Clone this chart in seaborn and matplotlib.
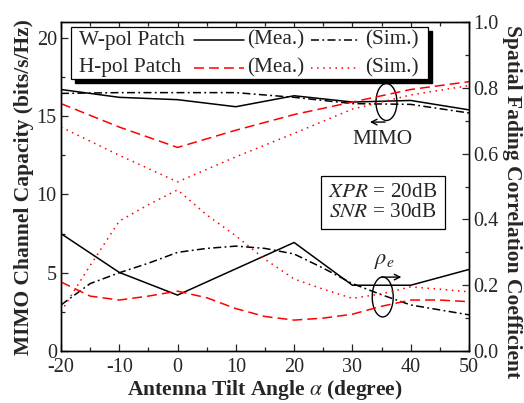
import numpy as np
import pandas as pd
import matplotlib
matplotlib.use("Agg")
import matplotlib.pyplot as plt
import seaborn as sns
from matplotlib.patches import Ellipse, Rectangle
from matplotlib.lines import Line2D

# tilt angles (degree)
angle_10 = [-20, -10, 0, 10, 20, 30, 40, 50]
angle_5 = [-20, -15, -10, -5, 0, 5, 10, 15, 20, 25, 30, 35, 40, 45, 50]

# MIMO channel capacity (bits/s/Hz)
cap_w_mea = [16.7, 16.2, 16.05, 15.6, 16.3, 15.9, 16.0, 15.4]
cap_w_sim = [16.45, 16.5, 16.5, 16.5, 16.2, 15.8, 15.75, 15.2]
cap_h_mea = [15.8, 14.3, 13.0, 14.1, 15.1, 15.9, 16.7, 17.2]
cap_h_sim = [14.3, 12.5, 10.8, 12.4, 13.9, 15.45, 16.35, 16.95]

# spatial fading correlation coefficient
rho_w_mea = [0.357, 0.239, 0.17, 0.25, 0.33, 0.20, 0.20, 0.248]
rho_w_sim = [0.14, 0.205, 0.238, 0.267, 0.30, 0.312, 0.319, 0.312, 0.295, 0.252, 0.205, 0.171, 0.14, 0.125, 0.11]
rho_h_mea = [0.21, 0.167, 0.155, 0.167, 0.182, 0.162, 0.129, 0.105, 0.094, 0.10, 0.112, 0.136, 0.155, 0.155, 0.15]
rho_h_sim = [0.12, 0.26, 0.395, 0.445, 0.49, 0.414, 0.35, 0.279, 0.219, 0.188, 0.16, 0.174, 0.195, 0.188, 0.18]

sns.set_style("ticks")
plt.rcParams['font.family'] = ['Liberation Serif', 'DejaVu Serif']
plt.rcParams['mathtext.fontset'] = 'stix'
plt.rcParams['axes.unicode_minus'] = False

red = '#ff0000'
lw = 1.1
solid = '-'
dashdot = (0, (5.2, 2.2, 1.2, 2.2))
dashed = (0, (6.5, 3.3))
dotted = (0, (1, 3))

fig = plt.figure(figsize=(5.24, 4.03), dpi=100)
ax = fig.add_axes([0.1164, 0.129, 0.7786, 0.816])
ax2 = ax.twinx()

# capacity curves (left axis)
sns.lineplot(x=angle_10, y=cap_w_mea, ax=ax, color='k', lw=lw, linestyle=solid)
sns.lineplot(x=angle_10, y=cap_w_sim, ax=ax, color='k', lw=lw, linestyle=dashdot)
sns.lineplot(x=angle_10, y=cap_h_mea, ax=ax, color=red, lw=lw, linestyle=dashed)
sns.lineplot(x=angle_10, y=cap_h_sim, ax=ax, color=red, lw=lw, linestyle=dotted)

# correlation curves (right axis)
sns.lineplot(x=angle_10, y=rho_w_mea, ax=ax2, color='k', lw=lw, linestyle=solid)
sns.lineplot(x=angle_5, y=rho_w_sim, ax=ax2, color='k', lw=lw, linestyle=dashdot)
sns.lineplot(x=angle_5, y=rho_h_mea, ax=ax2, color=red, lw=lw, linestyle=dashed)
sns.lineplot(x=angle_5, y=rho_h_sim, ax=ax2, color=red, lw=lw, linestyle=dotted)

ax.set_xlim(-20, 50)
ax.set_ylim(0, 21)
ax2.set_ylim(0, 1.0)
ax.set_xticks(range(-20, 51, 10))
ax.set_xticks(range(-15, 51, 10), minor=True)
ax.set_yticks([0, 5, 10, 15, 20])
ax.set_yticks(np.arange(2.5, 21, 5), minor=True)
ax2.set_yticks([0.0, 0.2, 0.4, 0.6, 0.8, 1.0])
ax2.set_yticks([0.1, 0.3, 0.5, 0.7, 0.9], minor=True)
ax2.set_yticklabels(['0.0', '0.2', '0.4', '0.6', '0.8', '1.0'])

ax.tick_params(which='both', direction='in', top=True, right=False, labelsize=14.5, width=0.9, pad=3)
ax.tick_params(axis='x', which='both', pad=5)
ax.tick_params(which='major', length=5)
ax.tick_params(which='minor', length=3)
ax2.tick_params(which='both', direction='in', labelsize=14.5, width=0.9, pad=3)
ax2.tick_params(which='major', length=5)
ax2.tick_params(which='minor', length=3)
for a in (ax, ax2):
    for s in a.spines.values():
        s.set_linewidth(1.0)
        s.set_color('k')

ax.set_xlabel(r'Antenna Tilt Angle $\alpha$ (degree)', fontsize=15.5, fontweight='bold', labelpad=1)
ax.set_ylabel('MIMO Channel Capacity (bits/s/Hz)', fontsize=15.5, fontweight='bold', labelpad=2)
ax2.set_ylabel('Spatial Fading Correlation Coefficient', fontsize=15.5, fontweight='bold',
               rotation=-90, va='center')
ax2.yaxis.set_label_coords(1.106, 0.455)

# legend box with black shadow
tr = ax2.transAxes
bx, by, bw, bh = 0.0245, 0.827, 0.8745, 0.158
ax2.add_patch(Rectangle((bx + 0.011, by - 0.013), bw, bh, transform=tr, facecolor='k', edgecolor='k', zorder=5))
ax2.add_patch(Rectangle((bx, by), bw, bh, transform=tr, facecolor='white', edgecolor='k', lw=0.9, zorder=6))
rows = [('W-pol Patch', 'k', solid, 'k', dashdot, 0.945),
        ('H-pol Patch', red, dashed, red, dotted, 0.862)]
for name, c1, ls1, c2, ls2, yy in rows:
    ax2.text(0.044, yy, name, transform=tr, fontsize=15.3, va='center', zorder=7)
    ax2.add_line(Line2D([0.326, 0.449], [yy, yy], transform=tr, color=c1, lw=lw, linestyle=ls1, zorder=7))
    ax2.text(0.456, yy, '(Mea.)', transform=tr, fontsize=15.3, va='center', zorder=7)
    ax2.add_line(Line2D([0.613, 0.733], [yy, yy], transform=tr, color=c2, lw=lw, linestyle=ls2, zorder=7))
    ax2.text(0.745, yy, '(Sim.)', transform=tr, fontsize=15.3, va='center', zorder=7)

# parameter box
ax2.text(0.789, 0.451, '$\\mathit{XPR}$ = 20dB\n$\\mathit{SNR}$ = 30dB', transform=tr,
         fontsize=15.3, ha='center', va='center', linespacing=1.05,
         bbox=dict(boxstyle='square,pad=0.35', facecolor='white', edgecolor='k', lw=0.9))

# MIMO marker
ax.add_patch(Ellipse((35.84, 15.9), 3.6, 2.36, fill=False, edgecolor='k', lw=1.0))
ax.annotate('', xy=(33.0, 14.62), xytext=(35.6, 14.62),
            arrowprops=dict(arrowstyle='->', color='k', lw=1.0, shrinkA=0, shrinkB=0))
ax.text(35.2, 13.5, 'MIMO', fontsize=15.3, ha='center', va='center')

# rho_e marker
ax.add_patch(Ellipse((35.2, 3.45), 3.6, 2.55, fill=False, edgecolor='k', lw=1.0))
ax.annotate('', xy=(38.4, 4.72), xytext=(35.0, 4.72),
            arrowprops=dict(arrowstyle='->', color='k', lw=1.0, shrinkA=0, shrinkB=0))
ax.text(35.4, 5.7, r'$\rho_e$', fontsize=16, ha='center', va='center')

fig.savefig('out.png', dpi=100)
